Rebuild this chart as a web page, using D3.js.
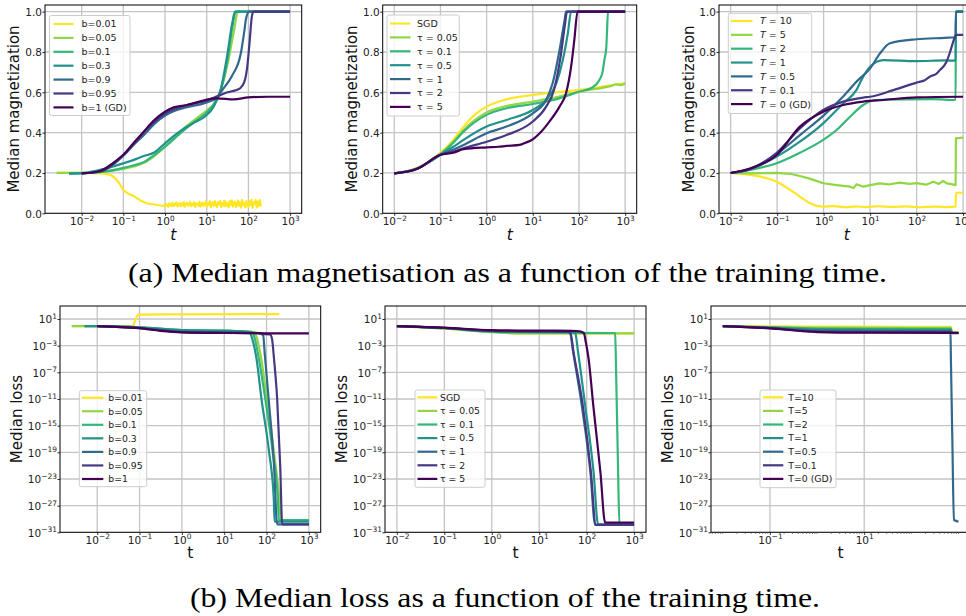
<!DOCTYPE html>
<html><head><meta charset="utf-8">
<script src="https://cdn.jsdelivr.net/npm/d3@7"></script>
<style>body{margin:0;background:#fff} svg{display:block}</style>
</head><body>
<svg id="c" width="966" height="616"></svg>
<script>
// ---------- labels ----------
const labelsB = ["b=0.01","b=0.05","b=0.1","b=0.3","b=0.9","b=0.95","b=1 (GD)"];
const labelsBLoss = ["b=0.01","b=0.05","b=0.1","b=0.3","b=0.9","b=0.95","b=1"];
const labelsTau = ["SGD","τ = 0.05","τ = 0.1","τ = 0.5","τ = 1","τ = 2","τ = 5"];
const labelsT = ["T = 10","T = 5","T = 2","T = 1","T = 0.5","T = 0.1","T = 0 (GD)"];
const labelsTLoss = ["T=10","T=5","T=2","T=1","T=0.5","T=0.1","T=0 (GD)"];
const captionA = "(a) Median magnetisation as a function of the training time.";
const captionB = "(b) Median loss as a function of the training time.";

// ---------- ticks ----------
const ticksTimeAll = [0.01, 0.1, 1, 10, 100, 1000];
const ticksTimeSparse = [0.1, 10];
const ticksMag = [0, 0.2, 0.4, 0.6, 0.8, 1.0];
const ticksLoss = [1e1, 1e-3, 1e-7, 1e-11, 1e-15, 1e-19, 1e-23, 1e-27, 1e-31];

// ---------- (a) magnetisation vs t, batch fraction b ----------
// b=0.01: smooth early part, then the noisy plateau (times + values)
const magB001Early = [[0.0025,0.2],[0.01,0.2],[0.0316,0.198],[0.05,0.19],[0.063,0.175],[0.079,0.15],[0.1,0.115],[0.126,0.1],[0.178,0.085],[0.251,0.065],[0.355,0.05],[0.5,0.045],[0.708,0.04]];
const magB001NoiseT = [1,1.059,1.122,1.189,1.259,1.334,1.413,1.496,1.585,1.679,1.778,1.884,1.995,2.113,2.239,2.371,2.512,2.661,2.818,2.985,3.162,3.35,3.548,3.758,3.981,4.217,4.467,4.732,5.012,5.309,5.623,5.957,6.31,6.683,7.079,7.499,7.943,8.414,8.913,9.441,
 10,10.59,11.22,11.89,12.59,13.34,14.13,14.96,15.85,16.79,17.78,18.84,19.95,21.13,22.39,23.71,25.12,26.61,28.18,29.85,31.62,33.5,35.48,37.58,39.81,42.17,44.67,47.32,50.12,53.09,56.23,59.57,63.1,66.83,70.79,74.99,79.43,84.14,89.13,94.41,
 100,105.9,112.2,118.9,125.9,133.4,141.3,149.6,158.5,167.9,177.8,188.4,199.5];
const magB001NoiseM = [0.036,0.046,0.040,0.033,0.050,0.042,0.037,0.052,0.035,0.047,0.041,0.054,0.034,0.044,0.050,0.036,0.049,0.039,0.055,0.033,0.046,0.052,0.038,0.043,0.056,0.035,0.048,0.041,0.054,0.032,0.050,0.044,0.037,0.057,0.034,0.047,0.053,0.036,0.045,0.058,
 0.033,0.051,0.042,0.059,0.031,0.047,0.055,0.036,0.060,0.040,0.032,0.056,0.045,0.061,0.030,0.050,0.038,0.062,0.034,0.053,0.044,0.029,0.060,0.041,0.064,0.033,0.052,0.058,0.031,0.047,0.063,0.036,0.055,0.028,0.066,0.042,0.050,0.030,0.061,0.045,
 0.032,0.060,0.041,0.067,0.027,0.055,0.048,0.065,0.029,0.058,0.036,0.066,0.034];
const magB001 = magB001Early.concat(magB001NoiseT.map((t, i) => [t, magB001NoiseM[i]]));
const magB005 = [[0.0025,0.2],[0.01,0.2],[0.0316,0.205],[0.1,0.22],[0.178,0.232],[0.316,0.25],[0.562,0.285],[1,0.33],[1.78,0.38],[3.16,0.43],[5.62,0.47],[10,0.51],[15.8,0.55],[22.4,0.62],[31.6,0.74],[44.7,0.9],[56.2,1.0],[1000,1.0]];
const magB01 = [[0.005,0.197],[0.01,0.199],[0.0316,0.205],[0.1,0.225],[0.178,0.238],[0.316,0.255],[0.562,0.29],[1,0.33],[1.78,0.375],[3.16,0.42],[5.62,0.46],[10,0.5],[15.8,0.55],[22.4,0.62],[31.6,0.76],[41.7,0.93],[50,1.0],[1000,1.0]];
const magB03 = [[0.005,0.197],[0.01,0.199],[0.0275,0.215],[0.1,0.248],[0.178,0.265],[0.309,0.284],[0.537,0.3],[1,0.347],[1.78,0.39],[2.82,0.42],[5.01,0.45],[9.12,0.48],[14.8,0.53],[21.4,0.61],[30.9,0.78],[40.7,0.94],[47.9,1.0],[1000,1.0]];
const magB09 = [[0.01,0.198],[0.0316,0.21],[0.0562,0.24],[0.1,0.285],[0.178,0.34],[0.316,0.39],[0.562,0.445],[1,0.485],[1.78,0.51],[3.16,0.525],[10,0.55],[17.8,0.575],[23.4,0.61],[40,0.68],[65.3,0.79],[79.4,0.9],[87,0.96],[104,1.0],[1000,1.0]];
const magB095 = [[0.01,0.198],[0.0316,0.21],[0.0562,0.245],[0.1,0.29],[0.178,0.345],[0.316,0.405],[0.562,0.455],[1,0.495],[1.78,0.52],[3.16,0.535],[10,0.56],[17.8,0.58],[31.6,0.6],[39.8,0.605],[63,0.62],[79.4,0.65],[93,0.72],[107,0.85],[120,0.97],[132,1.0],[1000,1.0]];
const magB1 = [[0.01,0.198],[0.0275,0.21],[0.0575,0.25],[0.1,0.29],[0.178,0.35],[0.309,0.405],[0.537,0.46],[1,0.504],[1.62,0.526],[3.39,0.537],[9.12,0.562],[17.8,0.57],[44.7,0.565],[100,0.575],[288,0.578],[1000,0.578]];

// ---------- (a) magnetisation vs t, persistence tau ----------
const magSGD = [[0.01,0.198],[0.0316,0.225],[0.1,0.3],[0.19,0.364],[0.316,0.43],[0.603,0.496],[1,0.529],[2.69,0.565],[10,0.587],[100,0.612],[316,0.628],[1000,0.645]];
const magTau005 = [[0.01,0.198],[0.0316,0.224],[0.1,0.295],[0.19,0.355],[0.316,0.413],[1,0.5],[2.69,0.532],[10,0.554],[37.2,0.579],[100,0.603],[316,0.622],[500,0.632],[630,0.64],[800,0.636],[1000,0.645]];
const magTau01 = [[0.01,0.198],[0.0316,0.223],[0.1,0.292],[0.19,0.35],[0.316,0.405],[1,0.488],[2.69,0.521],[10,0.542],[37.2,0.57],[100,0.603],[200,0.625],[275,0.66],[324,0.7],[355,0.76],[390,0.82],[405,0.9],[425,1.0],[1000,1.0]];
const magTau05 = [[0.01,0.198],[0.0316,0.222],[0.1,0.29],[0.19,0.33],[0.316,0.364],[1,0.43],[2.69,0.463],[10,0.512],[19.5,0.562],[32.4,0.645],[44.7,0.76],[57.5,0.893],[67.6,1.0],[1000,1.0]];
const magTau1 = [[0.01,0.198],[0.0316,0.221],[0.1,0.29],[0.19,0.315],[0.316,0.339],[1,0.397],[2.69,0.43],[10,0.496],[19.5,0.562],[26.9,0.645],[38,0.81],[49,0.96],[52.5,1.0],[1000,1.0]];
const magTau2 = [[0.01,0.198],[0.0316,0.221],[0.1,0.29],[0.19,0.305],[0.316,0.322],[1,0.355],[2.69,0.388],[10,0.455],[19.5,0.529],[28.8,0.612],[40,0.777],[50,0.94],[55,1.0],[1000,1.0]];
const magTau5 = [[0.01,0.198],[0.0316,0.221],[0.1,0.29],[0.19,0.3],[0.316,0.318],[1,0.327],[1.8,0.33],[2.69,0.334],[5.2,0.339],[7,0.35],[10,0.367],[14.1,0.397],[22.9,0.455],[38,0.529],[52.5,0.595],[67.6,0.727],[79.4,0.86],[93.3,1.0],[1000,1.0]];

// ---------- (a) magnetisation vs t, temperature T ----------
const magT10 = [[0.01,0.2],[0.026,0.19],[0.098,0.157],[0.19,0.116],[0.309,0.083],[0.51,0.05],[0.98,0.033],[1.6,0.036],[3,0.03],[5,0.034],[8,0.031],[15,0.035],[30,0.032],[60,0.034],[120,0.03],[250,0.033],[450,0.031],[690,0.033],[700,0.102],[1000,0.102]];
const magT5 = [[0.01,0.2],[0.026,0.198],[0.098,0.2],[0.19,0.196],[0.309,0.185],[0.5,0.172],[0.98,0.149],[1.9,0.14],[3.7,0.132],[4.4,0.125],[5.1,0.144],[7.1,0.132],[10,0.14],[16,0.148],[25,0.143],[43,0.152],[70,0.146],[100,0.15],[160,0.142],[229,0.156],[300,0.146],[371,0.16],[450,0.148],[560,0.145],[690,0.14],[700,0.372],[1000,0.375]];
const magT2 = [[0.01,0.2],[0.026,0.215],[0.098,0.248],[0.309,0.3],[0.98,0.364],[1.9,0.413],[3.7,0.479],[7.1,0.537],[13.9,0.562],[51.3,0.565],[229,0.566],[690,0.562],[700,1.0],[1000,1.0]];
const magT1 = [[0.01,0.2],[0.026,0.218],[0.098,0.281],[0.309,0.355],[0.98,0.446],[2.63,0.545],[5.1,0.612],[7.1,0.678],[10,0.727],[19.2,0.76],[100,0.755],[400,0.758],[690,0.757],[700,1.0],[1000,1.0]];
const magT05 = [[0.01,0.2],[0.026,0.22],[0.098,0.294],[0.309,0.388],[0.98,0.483],[2.63,0.579],[5.1,0.653],[10,0.719],[16.3,0.793],[26.7,0.843],[100,0.863],[400,0.87],[690,0.873],[700,1.0],[1000,1.0]];
const magT01 = [[0.01,0.2],[0.026,0.22],[0.098,0.3],[0.309,0.421],[0.98,0.512],[2.63,0.554],[7.1,0.574],[10,0.578],[31.6,0.611],[100,0.648],[150,0.66],[200,0.68],[260,0.69],[316,0.71],[437,0.75],[525,0.8],[631,0.86],[708,0.885],[1000,0.885]];
const magT0 = [[0.01,0.2],[0.026,0.222],[0.098,0.289],[0.309,0.43],[0.98,0.504],[2.63,0.537],[7.1,0.554],[19.2,0.562],[100,0.575],[1000,0.578]];

// ---------- (b) loss vs t, batch fraction b ----------
const lossB001 = [[0.0025,0.89],[0.03,0.89],[0.069,0.88],[0.08,8],[0.093,45],[0.3,50],[200,56]];
const lossB005 = [[0.0025,0.89],[0.01,0.85],[0.1,0.56],[1,0.22],[10,0.18],[31.6,0.13],[51.3,0.11],[60,0.01],[75,1e-5],[102,1e-11],[150,1e-19],[200,1e-26],[219,7e-30],[1000,7e-30]];
const lossB01 = [[0.005,0.89],[0.01,0.85],[0.1,0.56],[1,0.22],[10,0.18],[31.6,0.13],[45.7,0.11],[53,0.01],[66,1e-5],[93.3,1e-11],[140,1e-19],[185,1e-26],[195,7e-30],[1000,7e-30]];
const lossB03 = [[0.005,0.89],[0.01,0.85],[0.1,0.55],[1,0.21],[10,0.17],[31.6,0.13],[39.8,0.1],[46,0.01],[58,1e-5],[75.9,1e-11],[115,1e-19],[148,1e-26],[155,4e-30],[1000,4e-30]];
const lossB09 = [[0.01,0.89],[0.1,0.45],[1,0.12],[10,0.1],[60,0.085],[83.2,0.04],[90,1e-4],[112,1e-11],[150,1e-21],[178,1.6e-30],[1000,1.6e-30]];
const lossB095 = [[0.01,0.89],[0.1,0.43],[1,0.11],[10,0.09],[63,0.075],[79,0.06],[120,0.05],[135,0.009],[150,1e-5],[178,1e-11],[210,1e-21],[234,1.6e-30],[1000,1.6e-30]];
const lossB1 = [[0.01,0.89],[0.1,0.43],[0.316,0.17],[1,0.1],[10,0.08],[100,0.072],[1000,0.07]];

// ---------- (b) loss vs t, persistence tau ----------
const lossSGD = [[0.01,0.89],[0.093,0.4],[0.78,0.126],[3.9,0.07],[1000,0.07]];
const lossTau005 = [[0.01,0.89],[0.093,0.38],[0.78,0.12],[3.9,0.07],[1000,0.068]];
const lossTau01 = [[0.01,0.89],[0.1,0.42],[1,0.12],[10,0.09],[372,0.08],[398,0.07],[420,1e-8],[437,1e-14],[460,1e-22],[490,1.6e-30],[1000,1.6e-30]];
const lossTau05 = [[0.01,0.89],[0.1,0.45],[1,0.15],[10,0.12],[50,0.11],[57.5,0.07],[66,1e-4],[93,1e-12],[140,1e-22],[174,1.6e-30],[1000,1.6e-30]];
const lossTau1 = [[0.01,0.89],[0.1,0.45],[1,0.16],[10,0.13],[40,0.12],[44.6,0.08],[52,1e-4],[79,1e-12],[120,1e-22],[151,1.3e-30],[1000,1.3e-30]];
const lossTau2 = [[0.01,0.89],[0.1,0.46],[1,0.17],[10,0.14],[40,0.13],[45.5,0.08],[53,1e-4],[83,1e-12],[123,1e-22],[156,1.3e-30],[1000,1.3e-30]];
const lossTau5 = [[0.01,0.89],[0.1,0.5],[1,0.22],[10,0.18],[50,0.17],[72,0.14],[88,0.07],[95,0.005],[110,1e-5],[138,1e-12],[195,1e-22],[245,2.8e-30],[1000,2.8e-30]];

// ---------- (b) loss vs t, temperature T ----------
const lossT10 = [[0.01,0.89],[0.1,0.78],[1,0.72],[10,0.7],[100,0.68],[690,0.68],[720,0.1],[1000,0.1]];
const lossT5 = [[0.01,0.89],[0.1,0.62],[1,0.52],[10,0.5],[690,0.48],[720,0.09],[1000,0.09]];
const lossT2 = [[0.01,0.89],[0.1,0.55],[1,0.38],[10,0.35],[690,0.34],[720,0.085],[1000,0.085]];
const lossT1 = [[0.01,0.89],[0.1,0.5],[1,0.28],[10,0.25],[690,0.24],[720,0.08],[1000,0.08]];
const lossT05 = [[0.01,0.89],[0.1,0.45],[1,0.18],[10,0.16],[676,0.15],[690,1e-5],[740,1e-17],[800,7e-30],[1000,4e-30]];
const lossT01 = [[0.01,0.89],[0.1,0.43],[1,0.13],[10,0.11],[690,0.105],[720,0.075],[1000,0.075]];
const lossT0 = [[0.01,0.89],[0.1,0.4],[1,0.11],[10,0.09],[1000,0.085]];

// ---------- style ----------
const colors = ["#fde725","#90d743","#35b779","#21918c","#31688e","#443983","#440154"];
const svg = d3.select("#c");
const FONT = "DejaVu Sans, sans-serif";
let clipN = 0;

function supText(sel, exp, supSize, raise){
  sel.append("tspan").text("10");
  sel.append("tspan").attr("dy", -raise).attr("font-size", supSize)
     .text(exp < 0 ? "\u2212" + (-exp) : String(exp));
}

function drawPanel(p){
  const x = d3.scaleLog().domain(p.xDomain).range([p.x0, p.x1]);
  const y = p.logY ? d3.scaleLog().domain(p.yDomain).range([p.y1, p.y0])
                   : d3.scaleLinear().domain(p.yDomain).range([p.y1, p.y0]);
  const g = svg.append("g");
  const id = "clip" + (clipN++);
  g.append("clipPath").attr("id", id).append("rect")
    .attr("x", p.x0).attr("y", p.y0).attr("width", p.x1 - p.x0).attr("height", p.y1 - p.y0);
  const inner = g.append("g").attr("clip-path", `url(#${id})`);
  inner.selectAll(".gx").data(p.xTicks).join("line")
    .attr("x1", d => x(d)).attr("x2", d => x(d)).attr("y1", p.y0).attr("y2", p.y1)
    .attr("stroke", "#c4c4c4").attr("stroke-width", 1.3);
  inner.selectAll(".gy").data(p.yTicks).join("line")
    .attr("x1", p.x0).attr("x2", p.x1).attr("y1", d => y(d)).attr("y2", d => y(d))
    .attr("stroke", "#c4c4c4").attr("stroke-width", 1.3);
  const smooth = d3.line().x(d => x(d[0])).y(d => y(d[1])).curve(d3.curveMonotoneX);
  const straight = d3.line().x(d => x(d[0])).y(d => y(d[1]));
  p.series.forEach((s, i) => {
    const gen = (p.noisy && p.noisy.includes(i)) ? straight : smooth;
    inner.append("path").attr("d", gen(s)).attr("fill", "none")
      .attr("stroke", colors[i]).attr("stroke-width", 2.2).attr("stroke-linejoin", "round");
  });
  g.append("rect").attr("x", p.x0).attr("y", p.y0).attr("width", p.x1 - p.x0).attr("height", p.y1 - p.y0)
    .attr("fill", "none").attr("stroke", "#000").attr("stroke-width", 1);
  const ax = g.append("g").attr("transform", `translate(0,${p.y1})`)
    .call(d3.axisBottom(x).tickValues(p.xTicks).tickSize(2.5).tickPadding(0).tickFormat(""));
  ax.select(".domain").remove();
  ax.selectAll(".tick line").attr("stroke", "#222");
  ax.selectAll(".tick text").remove();
  ax.selectAll(".tick").each(function(d){
    const t = d3.select(this).append("text").attr("y", p.xLabBase).attr("text-anchor", "middle")
      .attr("font-family", FONT).attr("font-size", p.tickFs).attr("fill", "#222");
    supText(t, Math.round(Math.log10(d)), p.supFs, p.tickFs * 0.42);
  });
  if (p.minorX) {
    const minor = x.ticks().filter(v => !p.xTicks.some(m => Math.abs(m - v) / m < 1e-6));
    g.selectAll(".mx").data(minor).join("line")
      .attr("x1", d => x(d)).attr("x2", d => x(d)).attr("y1", p.y1).attr("y2", p.y1 + 1.6)
      .attr("stroke", "#444").attr("stroke-width", 0.7);
  }
  const ay = g.append("g").attr("transform", `translate(${p.x0},0)`)
    .call(d3.axisLeft(y).tickValues(p.yTicks).tickSize(2.5).tickPadding(0).tickFormat(""));
  ay.select(".domain").remove();
  ay.selectAll(".tick line").attr("stroke", "#222");
  ay.selectAll(".tick text").remove();
  ay.selectAll(".tick").each(function(d){
    const t = d3.select(this).append("text").attr("x", -3).attr("dy", "0.36em").attr("text-anchor", "end")
      .attr("font-family", FONT).attr("font-size", p.tickFs).attr("fill", "#222");
    if (p.logY) supText(t, Math.round(Math.log10(d)), p.supFs, p.tickFs * 0.42);
    else t.text(d3.format(".1f")(d));
  });
  g.append("text").attr("transform", `translate(${p.yLabX},${p.yLabY}) rotate(-90)`)
    .attr("text-anchor", "middle").attr("font-family", FONT).attr("font-size", 15).attr("fill", "#111")
    .text(p.yLabel);
  g.append("text").attr("x", (p.x0 + p.x1) / 2).attr("y", p.xLabY)
    .attr("text-anchor", "middle").attr("font-family", FONT).attr("font-size", 15.5)
    .attr("font-style", p.italicT ? "italic" : "normal").attr("fill", "#111").text("t");
  const L = p.legend;
  g.append("rect").attr("x", L.x).attr("y", L.y).attr("width", L.w).attr("height", L.h)
    .attr("rx", 2).attr("fill", "#fff").attr("fill-opacity", 0.8).attr("stroke", "#cccccc").attr("stroke-width", 1);
  p.labels.forEach((lab, i) => {
    const cy = L.first + i * L.step;
    g.append("line").attr("x1", L.hx1).attr("x2", L.hx2).attr("y1", cy).attr("y2", cy)
      .attr("stroke", colors[i]).attr("stroke-width", 2.2);
    const t = g.append("text").attr("x", L.tx).attr("y", cy).attr("dy", "0.36em")
      .attr("font-family", FONT).attr("font-size", L.fs).attr("fill", "#222");
    if (lab.startsWith("T = ")) {
      t.append("tspan").attr("font-style", "italic").text("T");
      t.append("tspan").text(lab.slice(1));
    } else t.text(lab);
  });
}

const topCommon = { y0: 5, y1: 213.3, logY: false, yDomain: [0, 1.033], yTicks: ticksMag,
  tickFs: 10.5, supFs: 7.3, xLabBase: 12, xLabY: 240, yLabel: "Median magnetization", yLabY: 109, italicT: true };
const botCommon = { y0: 306, y1: 532.3, logY: true, yDomain: [1e-31, 900], yTicks: ticksLoss,
  tickFs: 10.5, supFs: 7.5, xLabBase: 11.5, xLabY: 558, yLabel: "Median loss", yLabY: 419, italicT: false };

drawPanel(Object.assign({}, topCommon, {
  x0: 45, x1: 301.7, xDomain: [1.32e-3, 1.9e3], xTicks: ticksTimeAll, yLabX: 19, noisy: [0],
  series: [magB001, magB005, magB01, magB03, magB09, magB095, magB1], labels: labelsB,
  legend: { x: 49.5, y: 15.5, w: 80.5, h: 100, first: 24, step: 13.9, hx1: 53.5, hx2: 73.5, tx: 81.5, fs: 9.5 }
}));
drawPanel(Object.assign({}, topCommon, {
  x0: 382.7, x1: 636.7, xDomain: [5.62e-3, 1.78e3], xTicks: ticksTimeAll, yLabX: 357,
  series: [magSGD, magTau005, magTau01, magTau05, magTau1, magTau2, magTau5], labels: labelsTau,
  legend: { x: 387, y: 15, w: 72.3, h: 101, first: 23.5, step: 13.9, hx1: 390, hx2: 410.5, tx: 417, fs: 9.5 }
}));
drawPanel(Object.assign({}, topCommon, {
  x0: 719, x1: 974.75, xDomain: [5.62e-3, 1.78e3], xTicks: ticksTimeAll, yLabX: 693.5, noisy: [1],
  series: [magT10, magT5, magT2, magT1, magT05, magT01, magT0], labels: labelsT,
  legend: { x: 728.3, y: 13.3, w: 83.4, h: 100.2, first: 21, step: 13.85, hx1: 731, hx2: 752.5, tx: 760, fs: 9.5 }
}));
drawPanel(Object.assign({}, botCommon, {
  x0: 60, x1: 320.7, xDomain: [1.32e-3, 1.9e3], xTicks: ticksTimeAll, yLabX: 21.7,
  series: [lossB001, lossB005, lossB01, lossB03, lossB09, lossB095, lossB1], labels: labelsBLoss,
  legend: { x: 79.3, y: 390.7, w: 67.4, h: 96, first: 397.7, step: 13.55, hx1: 82, hx2: 103.3, tx: 108.3, fs: 9.3 }
}));
drawPanel(Object.assign({}, botCommon, {
  x0: 385, x1: 646, xDomain: [5.62e-3, 1.78e3], xTicks: ticksTimeAll, yLabX: 347.3,
  series: [lossSGD, lossTau005, lossTau01, lossTau05, lossTau1, lossTau2, lossTau5], labels: labelsTau,
  legend: { x: 415, y: 390, w: 70, h: 97.3, first: 397.3, step: 13.6, hx1: 417.5, hx2: 437.3, tx: 440, fs: 9.3 }
}));
drawPanel(Object.assign({}, botCommon, {
  x0: 711, x1: 970.3, xDomain: [5.62e-3, 1.78e3], xTicks: ticksTimeSparse, yLabX: 673.3, minorX: true,
  series: [lossT10, lossT5, lossT2, lossT1, lossT05, lossT01, lossT0], labels: labelsTLoss,
  legend: { x: 760, y: 390, w: 76, h: 97.7, first: 397.3, step: 13.6, hx1: 763, hx2: 783.3, tx: 788.3, fs: 9.3 }
}));

// captions
svg.append("text").attr("x", 507.5).attr("y", 282).attr("text-anchor", "middle")
  .attr("font-family", "Liberation Serif").attr("font-size", 27).attr("fill", "#000")
  .attr("textLength", 759).attr("lengthAdjust", "spacingAndGlyphs").text(captionA);
svg.append("text").attr("x", 505).attr("y", 607).attr("text-anchor", "middle")
  .attr("font-family", "Liberation Serif").attr("font-size", 27).attr("fill", "#000")
  .attr("textLength", 630).attr("lengthAdjust", "spacingAndGlyphs").text(captionB);
</script>
</body></html>
